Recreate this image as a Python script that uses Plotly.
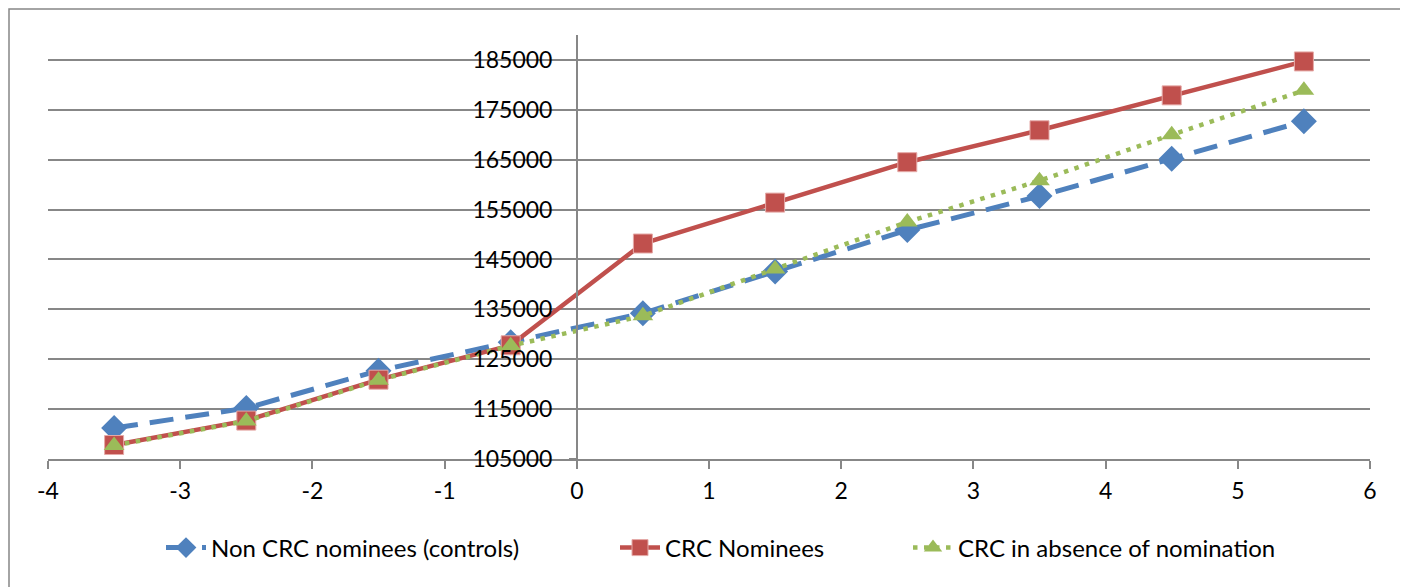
import plotly.graph_objects as go

x_vals = [-3.5, -2.5, -1.5, -0.5, 0.5, 1.5, 2.5, 3.5, 4.5, 5.5]
non_crc = [111200, 115200, 122700, 128400, 134200, 142600, 150900, 157700, 165200, 172700]
crc_nominees = [107800, 112700, 120900, 127800, 148200, 156400, 164500, 170900, 177900, 184700]
crc_absence = [107700, 112600, 120800, 127700, 133700, 143100, 152500, 160800, 170000, 178900]
names = ["Non CRC nominees (controls)", "CRC Nominees", "CRC in absence of nomination"]
y_ticks = [105000, 115000, 125000, 135000, 145000, 155000, 165000, 175000, 185000]
x_ticks = [-4, -3, -2, -1, 0, 1, 2, 3, 4, 5, 6]

FONT = "Lato"
OFF = 8  # page body margin
W, H = 1408 - OFF, 587 - OFF
ML, MR, MT, MB = 48 - OFF, 38, 35 - OFF, 128
PW, PH = W - ML - MR, H - MT - MB

fig = go.Figure()
fig.add_trace(go.Scatter(
    x=x_vals, y=non_crc, name=names[0], mode="lines+markers", legend="legend",
    line=dict(color="#4F81BD", width=5, dash="24px,12px"),
    marker=dict(symbol="diamond", size=20, color="#4F81BD", line=dict(color="#4F81BD", width=0)),
))
fig.add_trace(go.Scatter(
    x=x_vals, y=crc_nominees, name=names[1], mode="lines+markers", legend="legend2",
    line=dict(color="#C0504D", width=4.5),
    marker=dict(symbol="square", size=19, color="#C0504D", line=dict(color="#E5A9A7", width=1)),
))
fig.add_trace(go.Scatter(
    x=x_vals, y=crc_absence, name=names[2], mode="lines+markers", legend="legend3",
    line=dict(color="#9BBB59", width=4.5, dash="4.5px,6.5px"),
    marker=dict(symbol="triangle-up", size=18, color="#9BBB59", line=dict(color="#9BBB59", width=0)),
))

grid_col = "#878787"
leg_font = dict(family=FONT, size=24, color="black")
def leg(text_start):
    return dict(orientation="h", x=(text_start - OFF - 52 - ML) / PW, xanchor="left",
                y=(MT + PH - (548 - OFF)) / PH, yanchor="middle",
                font=leg_font, bgcolor="rgba(0,0,0,0)", itemwidth=40)

fig.update_layout(
    width=W, height=H,
    margin=dict(l=ML, r=MR, t=MT, b=MB),
    paper_bgcolor="white", plot_bgcolor="white",
    font=dict(family=FONT, size=23, color="black"),
    showlegend=True,
    legend=leg(213), legend2=leg(667), legend3=leg(960),
    xaxis=dict(range=[-4, 6], tickvals=x_ticks, ticktext=[str(v) for v in x_ticks],
               showgrid=False, zeroline=False, showline=True, linecolor=grid_col, linewidth=1.5,
               ticks="outside", ticklen=8, tickcolor=grid_col, tickwidth=1.5,
               ticklabelstandoff=3),
    yaxis=dict(range=[105000, 190000], tickvals=y_ticks, ticktext=[str(v) for v in y_ticks],
               showgrid=True, gridcolor=grid_col, gridwidth=1.5, zeroline=False,
               showline=True, linecolor=grid_col, linewidth=1.5,
               ticks="outside", ticklen=7, tickcolor=grid_col, tickwidth=1.5,
               anchor="free", position=0.4, ticklabelstandoff=12),
    shapes=[dict(type="rect", xref="paper", yref="paper",
                 x0=(1 - ML) / PW, x1=(1406 - OFF - ML) / PW,
                 y0=(MT + PH - 600) / PH, y1=(MT + PH - 1) / PH,
                 line=dict(color=grid_col, width=1.5), fillcolor="rgba(0,0,0,0)", layer="below")],
)

fig.write_html("out.html")
